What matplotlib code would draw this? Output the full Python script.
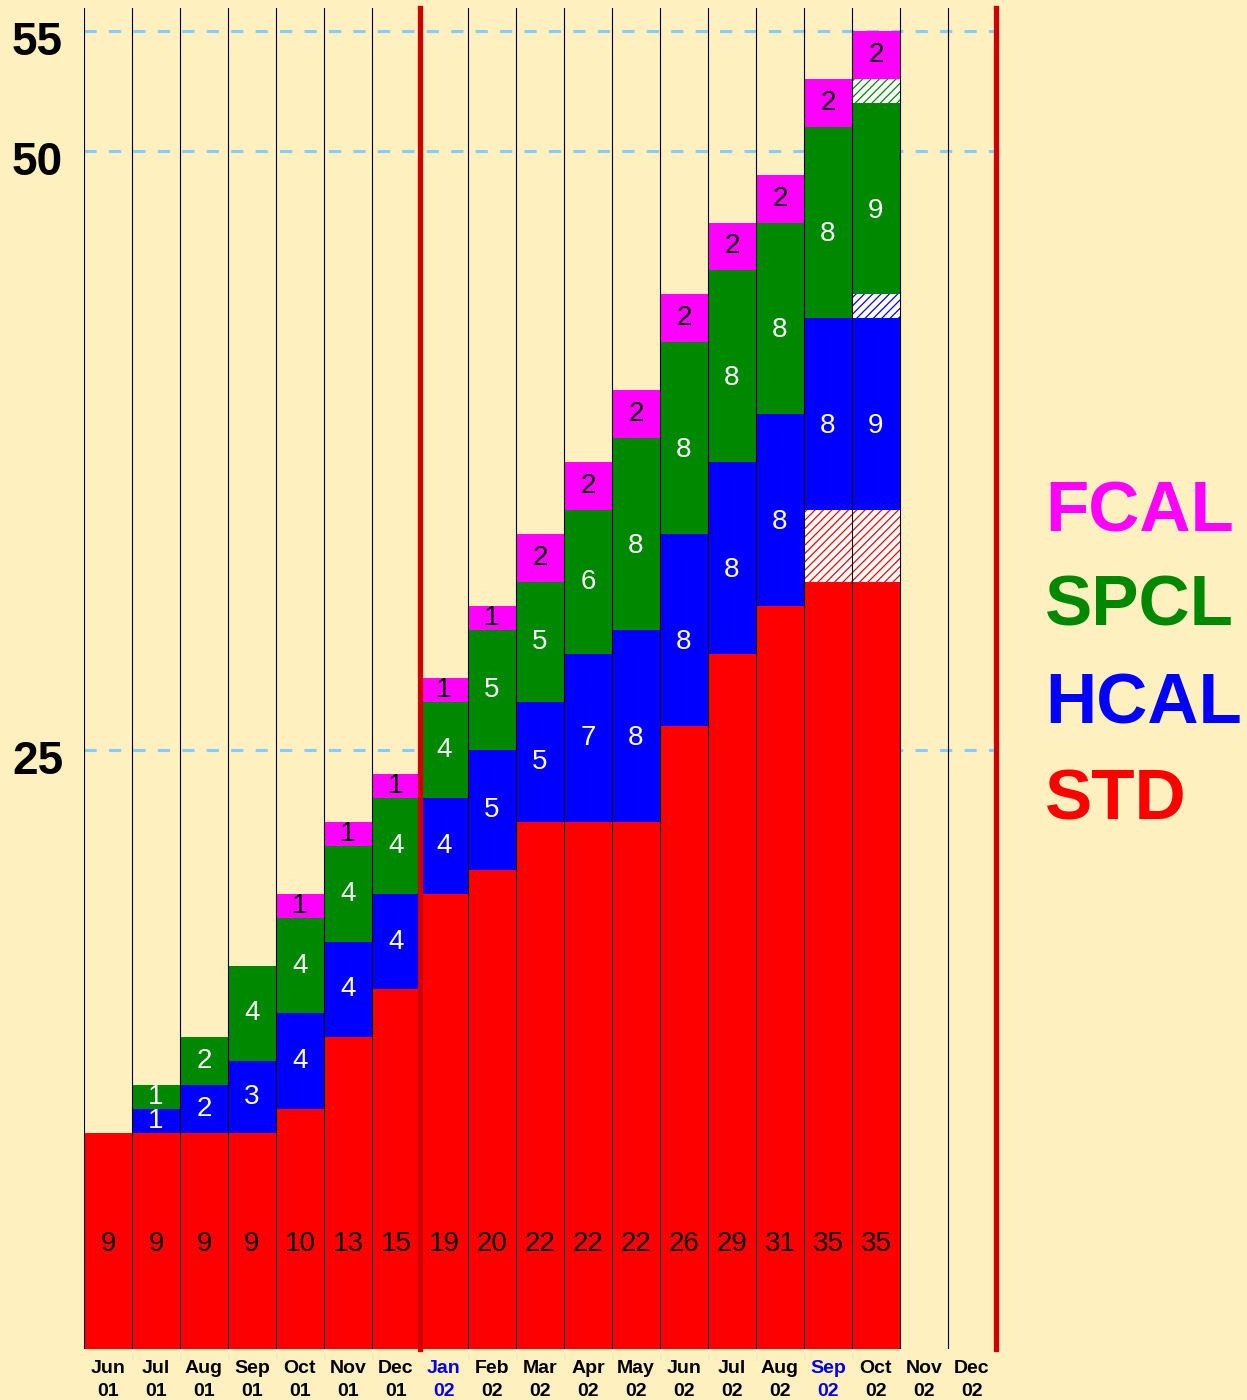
import numpy as np
import matplotlib
matplotlib.use('Agg')
import matplotlib.pyplot as plt

plt.rcParams['font.family'] = ['Liberation Sans', 'DejaVu Sans']
plt.rcParams['hatch.linewidth'] = 0.9

# months (x axis)
months = ['Jun\n01', 'Jul\n01', 'Aug\n01', 'Sep\n01', 'Oct\n01', 'Nov\n01', 'Dec\n01',
          'Jan\n02', 'Feb\n02', 'Mar\n02', 'Apr\n02', 'May\n02', 'Jun\n02', 'Jul\n02',
          'Aug\n02', 'Sep\n02', 'Oct\n02', 'Nov\n02', 'Dec\n02']
# counts per category
std = [9, 9, 9, 9, 10, 13, 15, 19, 20, 22, 22, 22, 26, 29, 31, 35, 35, 0, 0]
hcal = [0, 1, 2, 3, 4, 4, 4, 4, 5, 5, 7, 8, 8, 8, 8, 8, 9, 0, 0]
spcl = [0, 1, 2, 4, 4, 4, 4, 4, 5, 5, 6, 8, 8, 8, 8, 8, 9, 0, 0]
fcal = [0, 0, 0, 0, 1, 1, 1, 1, 1, 2, 2, 2, 2, 2, 2, 2, 2, 0, 0]
# planned part (hatched, top of segment)
std_plan = [0] * 15 + [3, 3, 0, 0]
hcal_plan = [0] * 16 + [1, 0, 0]
spcl_plan = [0] * 16 + [1, 0, 0]
fcal_plan = [0] * 19

y_ticks = [25, 50, 55]
blue_months = ['Jan\n02', 'Sep\n02']

bg = '#FFF0BF'
series = [
    ('STD', std, std_plan, '#FF0000', 'black'),
    ('HCAL', hcal, hcal_plan, '#0000FF', 'white'),
    ('SPCL', spcl, spcl_plan, '#008800', 'white'),
    ('FCAL', fcal, fcal_plan, '#FF00FF', 'black'),
]

fig = plt.figure(figsize=(12.47, 14.0), dpi=100, facecolor=bg)
ax = fig.add_axes([84 / 1247, 1 - 1349 / 1400, 912 / 1247, 1341 / 1400])
ax.set_facecolor(bg)

x = np.arange(len(months))
bottom = np.zeros(len(months))
for name, vals, plan, col, tcol in series:
    vals = np.array(vals, dtype=float)
    plan = np.array(plan, dtype=float)
    solid = vals - plan
    ax.bar(x, solid, width=1.0, bottom=bottom, color=col, linewidth=0, zorder=2)
    ax.bar(x, plan, width=1.0, bottom=bottom + solid, facecolor='white',
           edgecolor=col, hatch='////', linewidth=0, zorder=2)
    for i in range(len(x)):
        n = vals[i]
        if n == 0:
            continue
        if name == 'STD':
            ty = 4.4
        elif n <= 6:
            ty = bottom[i] + n / 2
        else:
            ty = bottom[i] + 3.5
        ax.text(x[i], ty, str(int(n)), ha='center', va='center',
                fontsize=20, color=tcol, zorder=5)
    bottom = bottom + vals

# dashed grid lines
for yv in y_ticks:
    ax.axhline(yv, color='#88CCFF', lw=2.2, linestyle=(0, (4, 4)), zorder=1)

# month separators
for b in np.arange(-0.5, len(months), 1.0):
    if b in (6.5, 18.5):
        ax.axvline(b, color='#D00000', lw=3.8, zorder=4, clip_on=False)
    else:
        ax.axvline(b, color='black', lw=0.8, zorder=3)

ax.set_xlim(-0.5, len(months) - 0.5)
ax.set_ylim(0, 55.95)
ax.set_yticks([])
# y labels sit a little below their line
for yv in y_ticks:
    ax.annotate(str(yv), xy=(0, yv), xycoords=ax.get_yaxis_transform(),
                xytext=(-21, -12), textcoords='offset pixels',
                ha='right', va='center', fontsize=33, fontweight='bold')
ax.set_xticks(x)
ax.set_xticklabels(months, fontsize=14, fontweight='bold', linespacing=1.45)
for lab in ax.get_xticklabels():
    if lab.get_text() in blue_months:
        lab.set_color('#0000EE')
ax.tick_params(axis='x', length=0, pad=8)
for s in ax.spines.values():
    s.set_visible(False)

# legend as coloured words
leg_y = [513, 608, 705, 801]
for (name, vals, plan, col, tcol), yp in zip(series[::-1], leg_y):
    fig.text(1045 / 1247, 1 - yp / 1400, name, color=col, fontsize=51,
             fontweight='bold', ha='left', va='center')

fig.savefig('out.png', dpi=100, facecolor=bg)
